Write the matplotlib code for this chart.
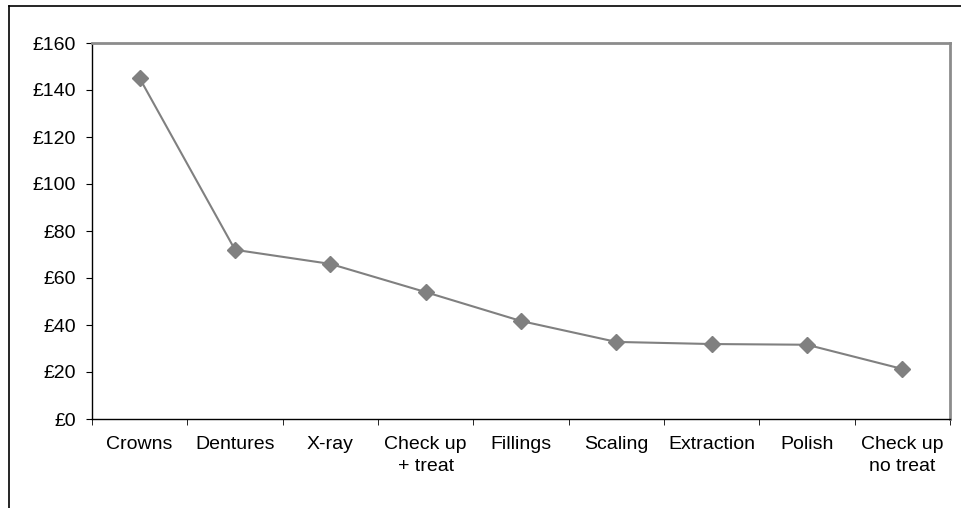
import matplotlib.pyplot as plt
from matplotlib.lines import Line2D
import numpy as np

plt.rcParams['font.family'] = ['Liberation Sans', 'DejaVu Sans']

treatments = ["Crowns", "Dentures", "X-ray", "Check up\n+ treat", "Fillings",
              "Scaling", "Extraction", "Polish", "Check up\nno treat"]
cost = [145, 72, 66, 54, 41.7, 32.8, 31.9, 31.6, 21.3]
yticks = [0, 20, 40, 60, 80, 100, 120, 140, 160]

fig = plt.figure(figsize=(9.62, 5.08), dpi=100)
ax = fig.add_axes([92/962, 1-419/508, (950-92)/962, (419-43)/508])

x = np.arange(len(treatments))
ax.plot(x, cost, color='#808080', lw=1.5, marker='D', markersize=8.5,
        markerfacecolor='#808080', markeredgecolor='#808080')

ax.set_xlim(-0.5, len(treatments) - 0.5)
ax.set_ylim(0, 160)
ax.set_yticks(yticks)
ax.set_yticklabels(["£%d" % v for v in yticks], fontsize=14)

# category labels in the middle, tick marks on the boundaries
ax.set_xticks(x)
ax.set_xticklabels(treatments, fontsize=14, va='top', linespacing=1.4)
ax.tick_params(axis='x', length=0, pad=12)
ax.set_xticks(np.arange(-0.5, len(treatments)), minor=True)
ax.tick_params(axis='x', which='minor', length=4.5, direction='out', color='black')
ax.tick_params(axis='y', length=4.5, direction='out', pad=7)

for s in ['left', 'bottom']:
    ax.spines[s].set_color('black')
    ax.spines[s].set_linewidth(1)
for s in ['top', 'right']:
    ax.spines[s].set_color('#8c8c8c')
    ax.spines[s].set_linewidth(2)

# outer chart frame (only top and left edges visible)
fig.add_artist(Line2D([9/962, 1], [1-6/508, 1-6/508], color='black', lw=1.2))
fig.add_artist(Line2D([9/962, 9/962], [0, 1-6/508], color='black', lw=1.2))

fig.savefig('out.png', dpi=100)
